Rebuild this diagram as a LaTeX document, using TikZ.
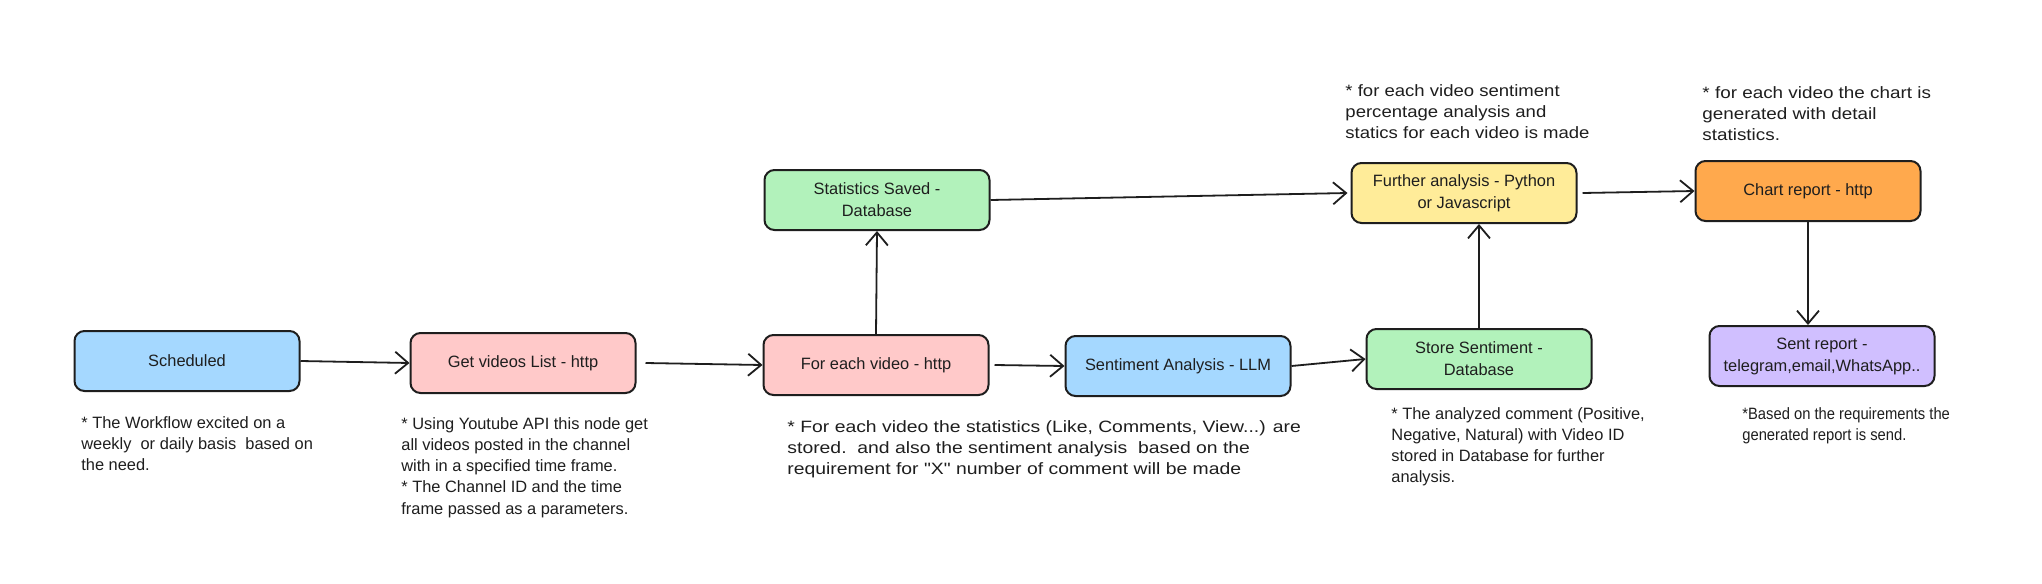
\documentclass[tikz,border=0pt]{standalone}
\usepackage{fontspec}
\setmainfont{Liberation Sans}[Ligatures=TeXOff]
\usetikzlibrary{arrows.meta}
\definecolor{ink}{HTML}{1E1E1E}
\definecolor{cblue}{HTML}{A5D8FF}
\definecolor{cpink}{HTML}{FFC9C9}
\definecolor{cgreen}{HTML}{B2F2BB}
\definecolor{cyellow}{HTML}{FFEC99}
\definecolor{corange}{HTML}{FFA94D}
\definecolor{cpurple}{HTML}{D0BFFF}
\newcommand{\labfont}{\fontsize{8.2pt}{11pt}\selectfont}
\newcommand{\notfont}{\fontsize{8.2pt}{10.6pt}\selectfont}
\begin{document}
\begin{tikzpicture}[x=0.5pt,y=-0.5pt,
  box/.style={draw=ink, line width=1pt, rounded corners=5pt, minimum width=112.5pt,
    minimum height=30pt, align=center, font=\labfont, inner sep=2pt, text=ink},
  note/.style={anchor=north west, align=left, inner sep=0pt, font=\notfont, text=ink},
  conn/.style={draw=ink, line width=0.9pt, -{Straight Barb[length=6.5pt,width=11pt,line width=0.9pt]}}]
\useasboundingbox[fill=white] (0,0) rectangle (2042,584);
% boxes
\node[box, fill=cblue]   (sched)   at (187,361) {Scheduled};
\node[box, fill=cpink]   (get)     at (523,363) {Get videos List - http};
\node[box, fill=cpink]   (each)    at (876,365) {For each video - http};
\node[box, fill=cblue]   (senti)   at (1178,366) {Sentiment Analysis - LLM};
\node[box, fill=cgreen]  (store)   at (1479,359) {Store Sentiment -\\Database};
\node[box, fill=cgreen]  (stats)   at (877,200) {Statistics Saved -\\Database};
\node[box, fill=cyellow] (further) at (1464,193) {Further analysis - Python\\or Javascript};
\node[box, fill=corange] (chart)   at (1808,191) {Chart report - http};
\node[box, fill=cpurple] (sent)    at (1822,356) {Sent report -\\telegram,email,WhatsApp..};
% notes
\node[note] (n1) at (81,416) {* The Workflow excited on a\\weekly\ \ or daily basis\ \ based on\\the need.};
\node[note] (n2) at (401,417) {* Using Youtube API this node get\\all videos posted in the channel\\with in a specified time frame.\\* The Channel ID and the time\\frame passed as a parameters.};
\begin{scope}[shift={(787,420)}, xscale=1.18, transform shape]
\node[note] (n3) at (0,0) {* For each video the statistics (Like, Comments, View...) are\\stored.\ \ and also the sentiment analysis\ \ based on the\\requirement for "X" number of comment will be made};
\end{scope}
\node[note] (n4) at (1391,407) {* The analyzed comment (Positive,\\Negative, Natural) with Video ID\\stored in Database for further\\analysis.};
\begin{scope}[shift={(1742,407)}, xscale=0.9, transform shape]
\node[note] (n5) at (0,0) {*Based on the requirements the\\generated report is send.};
\end{scope}
\begin{scope}[shift={(1345,84)}, xscale=1.13, transform shape]
\node[note] (n6) at (0,0) {* for each video sentiment\\percentage analysis and\\statics for each video is made};
\end{scope}
\begin{scope}[shift={(1702,86)}, xscale=1.15, transform shape]
\node[note] (n7) at (0,0) {* for each video the chart is\\generated with detail\\statistics.};
\end{scope}
% connectors
\draw[conn] (sched.east) -- (get.west);
\draw[conn] ([xshift=4.5pt]get.east) -- (each.west);
\draw[conn] ([xshift=2.5pt]each.east) -- (senti.west);
\draw[conn] (senti.east) -- (store.west);
\draw[conn] (each.north) -- (stats.south);
\draw[conn] (stats.east) -- ([xshift=-1.5pt]further.west);
\draw[conn] (store.north) -- (store.north |- further.south);
\draw[conn] ([xshift=2.5pt]further.east) -- (chart.west);
\draw[conn] (chart.south) -- (chart.south |- sent.north);
\end{tikzpicture}
\end{document}
